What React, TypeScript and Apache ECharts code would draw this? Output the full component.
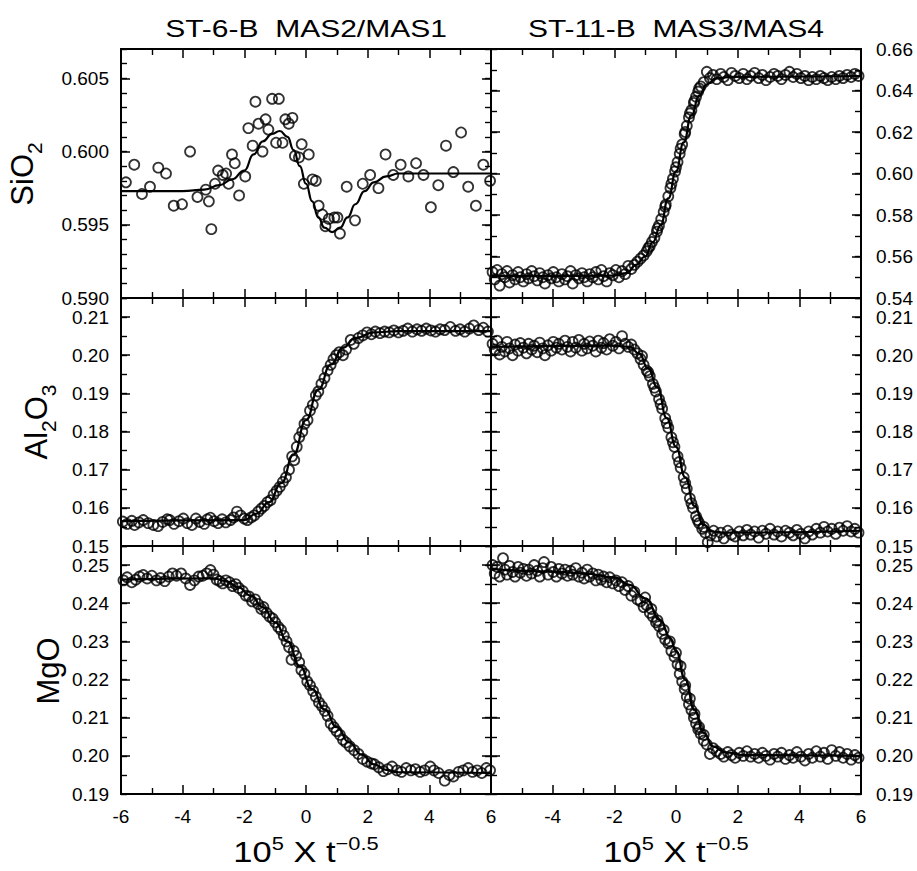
import React, { useEffect, useRef } from 'react';
import * as echarts from 'echarts';

const FONT = "'Liberation Sans', Arial, Helvetica, sans-serif";

// ---------- tick settings ----------
const xTicks = { min: -6, max: 6, major: 2, minor: 1 };
const sio2LeftTicks = { min: 0.59, max: 0.607, major: 0.005, minor: 0.001, decimals: 3 };
const sio2RightTicks = { min: 0.54, max: 0.66, major: 0.02, minor: 0.01, decimals: 2 };
const al2o3Ticks = { min: 0.15, max: 0.215, major: 0.01, minor: 0.005, decimals: 2 };
const mgoTicks = { min: 0.19, max: 0.255, major: 0.01, minor: 0.005, decimals: 2 };

const titles = ['ST-6-B  MAS2/MAS1', 'ST-11-B  MAS3/MAS4'];

// ---------- SiO2, ST-6-B ----------
const sio2LeftPoints = [
  [-5.84, 0.5979], [-5.57, 0.5991], [-5.32, 0.5971], [-5.06, 0.5976], [-4.79, 0.5989], [-4.54, 0.5985],
  [-4.29, 0.5963], [-4.02, 0.5964], [-3.76, 0.6], [-3.52, 0.5969], [-3.25, 0.5974], [-3.15, 0.5966],
  [-3.07, 0.5947], [-2.95, 0.5978], [-2.85, 0.5987], [-2.7, 0.5984], [-2.59, 0.5985], [-2.51, 0.5978],
  [-2.4, 0.5998], [-2.31, 0.5992], [-2.17, 0.597], [-1.97, 0.5983], [-1.87, 0.6016], [-1.73, 0.6004],
  [-1.64, 0.6034], [-1.54, 0.6019], [-1.41, 0.6], [-1.31, 0.6022], [-1.22, 0.6015], [-1.1, 0.6036],
  [-0.97, 0.6006], [-0.88, 0.6036], [-0.76, 0.6006], [-0.67, 0.6022], [-0.56, 0.6019], [-0.44, 0.6023],
  [-0.36, 0.5997], [-0.23, 0.5996], [-0.14, 0.6005], [-0.07, 0.5978], [0.09, 0.5998], [0.21, 0.5981],
  [0.32, 0.598], [0.41, 0.5963], [0.53, 0.5957], [0.63, 0.5949], [0.74, 0.5954], [0.92, 0.5955],
  [1.02, 0.5955], [1.1, 0.5944], [1.32, 0.5976], [1.59, 0.5953], [1.84, 0.5978], [2.08, 0.5984],
  [2.35, 0.5975], [2.58, 0.5998], [2.83, 0.5984], [3.07, 0.5991], [3.32, 0.5983], [3.57, 0.5992],
  [3.81, 0.5984], [4.05, 0.5962], [4.29, 0.5977], [4.54, 0.6004], [4.78, 0.5986], [5.03, 0.6013],
  [5.26, 0.5976], [5.51, 0.5963], [5.75, 0.5991], [5.97, 0.598]
];
const sio2LeftCurve = [
  [-6, 0.5973], [-4, 0.5973], [-3.3, 0.5974], [-2.8, 0.5977], [-2.4, 0.5981], [-2.0, 0.5987],
  [-1.7, 0.5998], [-1.4, 0.6007], [-1.1, 0.6012], [-0.85, 0.6014], [-0.6, 0.601], [-0.4, 0.6001],
  [-0.2, 0.599], [0, 0.5978], [0.2, 0.5966], [0.4, 0.5955], [0.6, 0.5948], [0.85, 0.5945],
  [1.1, 0.5948], [1.35, 0.5955], [1.6, 0.5964], [1.9, 0.5973], [2.2, 0.5979], [2.6, 0.5983],
  [3.0, 0.5985], [3.5, 0.5985], [6, 0.5985]
];

// ---------- SiO2, ST-11-B ----------
const sio2RightPoints = [
  [-5.95, 0.5525], [-5.88, 0.549], [-5.8, 0.5535], [-5.72, 0.546], [-5.65, 0.5515], [-5.55, 0.55],
  [-5.48, 0.553], [-5.4, 0.5475], [-5.3, 0.551], [-5.22, 0.549], [-5.12, 0.5525], [-5.05, 0.55],
  [-4.95, 0.548], [-4.85, 0.5515], [-4.78, 0.5495], [-4.68, 0.553], [-4.6, 0.5505], [-4.5, 0.5485],
  [-4.42, 0.552], [-4.32, 0.55], [-4.25, 0.547], [-4.15, 0.551], [-4.05, 0.5495], [-3.98, 0.5525],
  [-3.88, 0.55], [-3.8, 0.548], [-3.7, 0.5515], [-3.6, 0.549], [-3.52, 0.5505], [-3.42, 0.553],
  [-3.35, 0.547], [-3.25, 0.551], [-3.15, 0.5495], [-3.05, 0.552], [-2.98, 0.55], [-2.88, 0.548],
  [-2.8, 0.5515], [-2.7, 0.55], [-2.6, 0.5525], [-2.52, 0.549], [-2.42, 0.5535], [-2.35, 0.5505],
  [-2.25, 0.548], [-2.15, 0.552], [-2.05, 0.551], [-1.95, 0.5535], [-1.85, 0.55], [-1.75, 0.553],
  [-1.65, 0.5515], [-1.55, 0.5555], [-1.45, 0.554], [-1.35, 0.556], [-1.25, 0.5575], [-1.15, 0.559],
  [-1.05, 0.5605], [-0.95, 0.5625], [-0.85, 0.565], [-0.78, 0.567], [-0.7, 0.569], [-0.62, 0.572],
  [-0.55, 0.575], [-0.48, 0.578], [-0.4, 0.5815], [-0.33, 0.585], [-0.25, 0.589], [-0.18, 0.593],
  [-0.1, 0.5975], [-0.03, 0.601], [0.05, 0.6055], [0.12, 0.6095], [0.2, 0.614], [0.28, 0.619],
  [0.35, 0.623], [0.42, 0.627], [0.5, 0.6305], [0.58, 0.634], [0.65, 0.637], [0.72, 0.6395],
  [0.8, 0.642], [0.9, 0.644], [1.0, 0.649], [1.1, 0.646], [1.2, 0.6475], [1.32, 0.6455],
  [1.45, 0.648], [1.55, 0.6465], [1.68, 0.645], [1.8, 0.6485], [1.92, 0.647], [2.05, 0.646],
  [2.18, 0.648], [2.3, 0.6455], [2.42, 0.647], [2.55, 0.6485], [2.68, 0.646], [2.8, 0.6475],
  [2.92, 0.645], [3.05, 0.6465], [3.18, 0.648], [3.3, 0.647], [3.42, 0.6455], [3.55, 0.6475],
  [3.68, 0.649], [3.8, 0.6465], [3.92, 0.648], [4.05, 0.646], [4.18, 0.647], [4.3, 0.645],
  [4.42, 0.6465], [4.55, 0.6455], [4.68, 0.647], [4.8, 0.646], [4.92, 0.645], [5.05, 0.6465],
  [5.18, 0.6455], [5.3, 0.647], [5.42, 0.646], [5.55, 0.6475], [5.68, 0.6465], [5.8, 0.648],
  [5.92, 0.647],
  [-0.9, 0.564], [-0.6, 0.5735], [-0.35, 0.584], [-0.15, 0.595], [0.0, 0.603], [0.15, 0.612],
  [0.3, 0.62], [0.45, 0.629], [0.6, 0.635], [0.75, 0.641]
];
const sio2RightCurve = [
  [-6, 0.5505], [-2, 0.5508], [-1.6, 0.552], [-1.3, 0.556], [-1.0, 0.56], [-0.75, 0.567],
  [-0.5, 0.575], [-0.25, 0.588], [0, 0.601], [0.25, 0.615], [0.5, 0.628], [0.75, 0.6375],
  [1.0, 0.643], [1.3, 0.6458], [1.8, 0.6466], [6, 0.647]
];

// ---------- Al2O3, ST-6-B ----------
const al2o3LeftPoints = [
  [-5.94, 0.1564], [-5.8, 0.1558], [-5.65, 0.1566], [-5.56, 0.1555], [-5.42, 0.1562], [-5.28, 0.1568],
  [-5.12, 0.156], [-4.95, 0.1555], [-4.8, 0.1552], [-4.65, 0.1563], [-4.5, 0.157], [-4.42, 0.1568],
  [-4.28, 0.1558], [-4.12, 0.1565], [-3.98, 0.1572], [-3.85, 0.156], [-3.7, 0.1555], [-3.57, 0.1572],
  [-3.45, 0.1563], [-3.3, 0.1558], [-3.2, 0.157], [-3.1, 0.1574], [-2.98, 0.1565], [-2.85, 0.156],
  [-2.72, 0.157], [-2.6, 0.1562], [-2.45, 0.1568], [-2.35, 0.1575], [-2.24, 0.159], [-2.12, 0.158],
  [-2.0, 0.1572], [-1.9, 0.1568], [-1.78, 0.1575], [-1.68, 0.158], [-1.55, 0.159], [-1.45, 0.1598],
  [-1.35, 0.1605], [-1.25, 0.1615], [-1.15, 0.162], [-1.05, 0.1635], [-0.95, 0.1645], [-0.85, 0.1655],
  [-0.75, 0.1668], [-0.65, 0.168], [-0.55, 0.17], [-0.45, 0.1735], [-0.38, 0.1725], [-0.3, 0.176],
  [-0.22, 0.1785], [-0.12, 0.18], [-0.05, 0.182], [0.05, 0.183], [0.13, 0.1855], [0.22, 0.187],
  [0.32, 0.1895], [0.4, 0.1905], [0.5, 0.1925], [0.6, 0.194], [0.7, 0.196], [0.8, 0.1975],
  [0.89, 0.199], [0.98, 0.2], [1.08, 0.2008], [1.2, 0.2], [1.3, 0.2015], [1.45, 0.204],
  [1.55, 0.203], [1.7, 0.2045], [1.84, 0.2052], [1.98, 0.206], [2.12, 0.2055], [2.25, 0.2062],
  [2.4, 0.2058], [2.55, 0.2062], [2.7, 0.206], [2.85, 0.2065], [3.0, 0.206], [3.15, 0.2064],
  [3.3, 0.207], [3.45, 0.2062], [3.6, 0.2068], [3.75, 0.2064], [3.9, 0.207], [4.05, 0.2065],
  [4.2, 0.2062], [4.35, 0.2068], [4.5, 0.2066], [4.68, 0.2074], [4.85, 0.2064], [5.0, 0.2068],
  [5.15, 0.2062], [5.3, 0.207], [5.44, 0.2078], [5.6, 0.2066], [5.75, 0.2072], [5.9, 0.2062]
];
const al2o3LeftCurve = [
  [-6, 0.1565], [-2.0, 0.1568], [-1.6, 0.1585], [-1.2, 0.1615], [-0.8, 0.1665], [-0.4, 0.174],
  [0, 0.183], [0.4, 0.191], [0.8, 0.1975], [1.2, 0.202], [1.6, 0.2045], [2.2, 0.206],
  [3.0, 0.2063], [6, 0.2063]
];

// ---------- Al2O3, ST-11-B ----------
const al2o3RightPoints = [
  [-5.95, 0.203], [-5.88, 0.2015], [-5.8, 0.2038], [-5.72, 0.2002], [-5.65, 0.2022], [-5.55, 0.201],
  [-5.48, 0.2035], [-5.4, 0.2018], [-5.3, 0.2], [-5.22, 0.2028], [-5.12, 0.2012], [-5.05, 0.2032],
  [-4.95, 0.202], [-4.85, 0.2005], [-4.78, 0.203], [-4.68, 0.2015], [-4.6, 0.2025], [-4.5, 0.2008],
  [-4.42, 0.2033], [-4.32, 0.2018], [-4.25, 0.2], [-4.15, 0.2026], [-4.05, 0.2012], [-3.98, 0.2035],
  [-3.88, 0.202], [-3.8, 0.203], [-3.7, 0.2015], [-3.6, 0.2038], [-3.52, 0.2022], [-3.42, 0.201],
  [-3.35, 0.2035], [-3.25, 0.202], [-3.15, 0.204], [-3.05, 0.2012], [-2.98, 0.203], [-2.88, 0.2018],
  [-2.8, 0.2036], [-2.7, 0.2025], [-2.6, 0.201], [-2.52, 0.2038], [-2.42, 0.202], [-2.35, 0.2032],
  [-2.25, 0.2015], [-2.15, 0.2042], [-2.05, 0.2025], [-1.95, 0.2035], [-1.85, 0.2018], [-1.75, 0.205],
  [-1.65, 0.203], [-1.55, 0.2022], [-1.45, 0.2028], [-1.35, 0.2015], [-1.25, 0.2005], [-1.15, 0.199],
  [-1.05, 0.1975], [-0.95, 0.196], [-0.85, 0.1945], [-0.75, 0.1925], [-0.65, 0.1905], [-0.55, 0.1885],
  [-0.45, 0.186], [-0.35, 0.1835], [-0.25, 0.181], [-0.15, 0.1785], [-0.05, 0.176], [0.05, 0.1735],
  [0.15, 0.1705], [0.25, 0.168], [0.35, 0.165], [0.45, 0.1625], [0.55, 0.16], [0.65, 0.1578],
  [0.75, 0.156], [0.85, 0.1545], [0.95, 0.1535], [1.03, 0.151], [1.12, 0.1528], [1.22, 0.154],
  [1.32, 0.1525], [1.45, 0.1535], [1.55, 0.152], [1.68, 0.154], [1.8, 0.153], [1.92, 0.1525],
  [2.05, 0.1538], [2.18, 0.1528], [2.3, 0.1542], [2.42, 0.153], [2.55, 0.1538], [2.68, 0.1522],
  [2.8, 0.154], [2.92, 0.1532], [3.05, 0.1545], [3.18, 0.153], [3.3, 0.1538], [3.42, 0.1525],
  [3.55, 0.154], [3.68, 0.1535], [3.8, 0.1528], [3.92, 0.1542], [4.05, 0.1532], [4.18, 0.152],
  [4.3, 0.1538], [4.42, 0.153], [4.55, 0.1545], [4.68, 0.1535], [4.8, 0.155], [4.92, 0.1538],
  [5.05, 0.1545], [5.18, 0.1532], [5.3, 0.1548], [5.42, 0.154], [5.55, 0.1552], [5.68, 0.1538],
  [5.8, 0.1545], [5.92, 0.1535],
  [-1.1, 0.1998], [-0.9, 0.1955], [-0.7, 0.1915], [-0.5, 0.1872], [-0.3, 0.1822], [-0.1, 0.1772],
  [0.1, 0.172], [0.3, 0.1665], [0.5, 0.1612], [0.7, 0.1568], [0.9, 0.155]
];
const al2o3RightCurve = [
  [-6, 0.2022], [-2, 0.2025], [-1.5, 0.2022], [-1.2, 0.2005], [-0.9, 0.1965], [-0.6, 0.1915],
  [-0.3, 0.1835], [0, 0.176], [0.3, 0.168], [0.6, 0.1605], [0.9, 0.1555], [1.2, 0.1538],
  [1.6, 0.1535], [6, 0.154]
];

// ---------- MgO, ST-6-B ----------
const mgoLeftPoints = [
  [-5.92, 0.246], [-5.8, 0.2468], [-5.65, 0.2455], [-5.52, 0.2462], [-5.4, 0.247], [-5.28, 0.2474],
  [-5.15, 0.2465], [-5.0, 0.2472], [-4.85, 0.246], [-4.72, 0.2466], [-4.58, 0.2458], [-4.45, 0.247],
  [-4.33, 0.2478], [-4.2, 0.2472], [-4.05, 0.2478], [-3.9, 0.2465], [-3.76, 0.2448], [-3.62, 0.246],
  [-3.48, 0.247], [-3.35, 0.2472], [-3.22, 0.2478], [-3.1, 0.2487], [-3.0, 0.2475], [-2.9, 0.2462],
  [-2.8, 0.2458], [-2.7, 0.2452], [-2.6, 0.246], [-2.48, 0.2455], [-2.38, 0.2445], [-2.28, 0.245],
  [-2.18, 0.244], [-2.05, 0.2432], [-1.95, 0.242], [-1.85, 0.2418], [-1.75, 0.2405], [-1.65, 0.241],
  [-1.55, 0.2398], [-1.45, 0.2385], [-1.38, 0.239], [-1.28, 0.2375], [-1.18, 0.2365], [-1.08, 0.236],
  [-1.0, 0.235], [-0.9, 0.2338], [-0.81, 0.233], [-0.72, 0.2315], [-0.63, 0.23], [-0.55, 0.2285],
  [-0.47, 0.2252], [-0.4, 0.2275], [-0.32, 0.2262], [-0.22, 0.2245], [-0.15, 0.2225], [-0.05, 0.2215],
  [0.04, 0.2195], [0.13, 0.2185], [0.23, 0.217], [0.32, 0.2155], [0.42, 0.214], [0.52, 0.213],
  [0.61, 0.2118], [0.7, 0.2105], [0.8, 0.2085], [0.9, 0.2075], [0.99, 0.2065], [1.1, 0.2055],
  [1.2, 0.2042], [1.3, 0.2035], [1.42, 0.2025], [1.56, 0.2015], [1.7, 0.2005], [1.84, 0.1992],
  [1.98, 0.1985], [2.12, 0.198], [2.22, 0.1978], [2.36, 0.197], [2.51, 0.196], [2.65, 0.1965],
  [2.79, 0.1972], [2.95, 0.1962], [3.1, 0.1958], [3.25, 0.1968], [3.4, 0.1962], [3.55, 0.1965],
  [3.7, 0.1958], [3.85, 0.1962], [4.03, 0.1972], [4.15, 0.1962], [4.3, 0.1955], [4.5, 0.1935],
  [4.65, 0.195], [4.78, 0.1946], [4.95, 0.1958], [5.1, 0.1962], [5.26, 0.1968], [5.4, 0.1958],
  [5.55, 0.1962], [5.7, 0.1955], [5.85, 0.1968], [5.97, 0.1962]
];
const mgoLeftCurve = [
  [-6, 0.2462], [-3.0, 0.2465], [-2.6, 0.2458], [-2.2, 0.2442], [-1.8, 0.242], [-1.4, 0.239],
  [-1.0, 0.235], [-0.6, 0.23], [-0.2, 0.2235], [0.2, 0.2175], [0.6, 0.2122], [1.0, 0.2075],
  [1.4, 0.2035], [1.8, 0.2003], [2.2, 0.1978], [2.6, 0.1963], [3.0, 0.1957], [6, 0.1955]
];

// ---------- MgO, ST-11-B ----------
const mgoRightPoints = [
  [-5.95, 0.25], [-5.88, 0.2478], [-5.8, 0.2495], [-5.72, 0.247], [-5.61, 0.2518], [-5.55, 0.2488],
  [-5.48, 0.2475], [-5.4, 0.2498], [-5.3, 0.2482], [-5.22, 0.247], [-5.12, 0.2495], [-5.05, 0.248],
  [-4.95, 0.249], [-4.85, 0.2472], [-4.78, 0.2488], [-4.68, 0.2478], [-4.6, 0.25], [-4.5, 0.2485],
  [-4.42, 0.247], [-4.32, 0.2492], [-4.28, 0.2508], [-4.15, 0.2475], [-4.05, 0.2495], [-3.98, 0.2482],
  [-3.88, 0.247], [-3.8, 0.249], [-3.7, 0.2478], [-3.6, 0.2488], [-3.52, 0.2472], [-3.42, 0.2485],
  [-3.35, 0.2475], [-3.25, 0.2492], [-3.15, 0.247], [-3.05, 0.248], [-2.98, 0.2465], [-2.88, 0.2488],
  [-2.8, 0.247], [-2.7, 0.2478], [-2.6, 0.246], [-2.52, 0.2475], [-2.42, 0.2462], [-2.35, 0.247],
  [-2.25, 0.2455], [-2.15, 0.2468], [-2.05, 0.2452], [-1.95, 0.246], [-1.85, 0.2445], [-1.75, 0.2455],
  [-1.65, 0.2435], [-1.55, 0.2445], [-1.45, 0.242], [-1.35, 0.243], [-1.25, 0.241], [-1.15, 0.2405],
  [-1.05, 0.239], [-0.95, 0.2395], [-0.85, 0.2375], [-0.75, 0.2365], [-0.65, 0.235], [-0.55, 0.234],
  [-0.45, 0.232], [-0.35, 0.2305], [-0.25, 0.2295], [-0.15, 0.2275], [-0.05, 0.226], [0.05, 0.224],
  [0.12, 0.2215], [0.2, 0.2195], [0.28, 0.2175], [0.35, 0.2155], [0.42, 0.2135], [0.5, 0.212],
  [0.58, 0.21], [0.65, 0.2085], [0.72, 0.207], [0.8, 0.2058], [0.9, 0.204], [1.0, 0.203],
  [1.1, 0.2005], [1.2, 0.202], [1.32, 0.2012], [1.45, 0.2005], [1.55, 0.1998], [1.68, 0.201],
  [1.8, 0.2002], [1.92, 0.1995], [2.05, 0.2008], [2.18, 0.2], [2.3, 0.2012], [2.42, 0.1998],
  [2.55, 0.2005], [2.68, 0.1995], [2.8, 0.2008], [2.92, 0.2], [3.05, 0.199], [3.18, 0.2005],
  [3.3, 0.1998], [3.42, 0.2008], [3.55, 0.1992], [3.68, 0.2002], [3.8, 0.1995], [3.92, 0.201],
  [4.05, 0.1998], [4.18, 0.1988], [4.3, 0.2005], [4.42, 0.1995], [4.55, 0.2012], [4.68, 0.1998],
  [4.8, 0.2008], [4.92, 0.1992], [5.05, 0.2015], [5.18, 0.2], [5.3, 0.201], [5.42, 0.1995],
  [5.55, 0.2005], [5.68, 0.199], [5.8, 0.2002], [5.92, 0.1995],
  [-1.0, 0.2415], [-0.8, 0.2385], [-0.6, 0.2355], [-0.4, 0.233], [-0.2, 0.23], [0.0, 0.227],
  [0.15, 0.2235], [0.3, 0.2185], [0.45, 0.215], [0.6, 0.211], [0.75, 0.2075], [0.9, 0.2055]
];
const mgoRightCurve = [
  [-6, 0.249], [-4, 0.2483], [-3, 0.2478], [-2, 0.2468], [-1.5, 0.2448], [-1.0, 0.2413],
  [-0.5, 0.2356], [-0.2, 0.231], [0, 0.2275], [0.3, 0.22], [0.6, 0.212], [0.9, 0.206],
  [1.2, 0.2025], [1.6, 0.2009], [2.2, 0.2002], [6, 0.2]
];

// ---------- layout ----------
const colLeft = [121, 491];
const panelWidth = 370;
const rowTop = [49, 298, 546];
const rowHeight = [249, 248, 248];

const panels = [
  { row: 0, col: 0, ticks: sio2LeftTicks, points: sio2LeftPoints, curve: sio2LeftCurve },
  { row: 0, col: 1, ticks: sio2RightTicks, points: sio2RightPoints, curve: sio2RightCurve },
  { row: 1, col: 0, ticks: al2o3Ticks, points: al2o3LeftPoints, curve: al2o3LeftCurve },
  { row: 1, col: 1, ticks: al2o3Ticks, points: al2o3RightPoints, curve: al2o3RightCurve },
  { row: 2, col: 0, ticks: mgoTicks, points: mgoLeftPoints, curve: mgoLeftCurve },
  { row: 2, col: 1, ticks: mgoTicks, points: mgoRightPoints, curve: mgoRightCurve }
];

const black = '#000';
const labelStyle = { fontSize: 19, fontFamily: FONT, color: black };
const borderLine = { show: true, onZero: false, lineStyle: { color: black, width: 2 } };

function xAxisFor(gridIndex: number, position: string, showLabel: boolean, showMin: boolean) {
  return {
    type: 'value', gridIndex, position, min: xTicks.min, max: xTicks.max, interval: xTicks.major,
    axisLine: borderLine,
    axisTick: { show: true, inside: true, length: 9, lineStyle: { color: black, width: 1.5 } },
    minorTick: { show: true, splitNumber: xTicks.major / xTicks.minor, length: 6, lineStyle: { color: black, width: 1.4 } },
    splitLine: { show: false }, minorSplitLine: { show: false },
    axisLabel: { show: showLabel, showMinLabel: showMin, margin: 13, ...labelStyle }
  };
}

function yMajorFor(gridIndex: number, position: string, t: any, showLabel: boolean) {
  return {
    type: 'value', gridIndex, position, min: t.min, max: t.max, interval: t.major,
    axisLine: borderLine,
    axisTick: { show: true, inside: true, length: 9, lineStyle: { color: black, width: 1.5 } },
    splitLine: { show: false },
    axisLabel: {
      show: showLabel, margin: position === 'left' ? 12 : 15, ...labelStyle,
      formatter: (v: number) => {
        const k = (v - t.min) / t.major;
        return Math.abs(k - Math.round(k)) < 1e-4 ? v.toFixed(t.decimals) : '';
      }
    }
  };
}

function yMinorFor(gridIndex: number, position: string, t: any) {
  return {
    type: 'value', gridIndex, position, min: t.min, max: t.max, interval: t.minor,
    axisLine: borderLine,
    axisTick: { show: true, inside: true, length: 6, lineStyle: { color: black, width: 1.4 } },
    splitLine: { show: false },
    axisLabel: { show: false }
  };
}

function buildOption() {
  const grid: any[] = [];
  const xAxis: any[] = [];
  const yAxis: any[] = [];
  const series: any[] = [];
  panels.forEach((p, i) => {
    grid.push({ left: colLeft[p.col], top: rowTop[p.row], width: panelWidth, height: rowHeight[p.row], containLabel: false });
    xAxis.push(xAxisFor(i, 'bottom', p.row === 2, p.col === 0));
    xAxis.push(xAxisFor(i, 'top', false, true));
    yAxis.push(yMajorFor(i, 'left', p.ticks, p.col === 0));
    yAxis.push(yMinorFor(i, 'left', p.ticks));
    yAxis.push(yMajorFor(i, 'right', p.ticks, p.col === 1));
    yAxis.push(yMinorFor(i, 'right', p.ticks));
    series.push({
      type: 'scatter', xAxisIndex: 2 * i, yAxisIndex: 4 * i, data: p.points,
      symbol: 'circle', symbolSize: 10, silent: true, z: 2,
      itemStyle: { color: 'rgba(255,255,255,0)', borderColor: black, borderWidth: 1.8 }
    });
    series.push({
      type: 'line', xAxisIndex: 2 * i, yAxisIndex: 4 * i, data: p.curve,
      showSymbol: false, symbol: 'none', smooth: 0.5, smoothMonotone: 'x', silent: true, z: 3,
      lineStyle: { color: black, width: 2.2 }
    });
  });

  const titleStyle = (text: string) => ({
    text, fontSize: 24, fontFamily: FONT, fill: black, textAlign: 'center', textVerticalAlign: 'middle'
  });
  const yTitle = (text: string, x: number, y: number) => ({
    type: 'text', x, y, rotation: Math.PI / 2, silent: true,
    style: {
      text, textAlign: 'center', textVerticalAlign: 'middle', fill: black,
      rich: {
        m: { fontSize: 31, fontFamily: FONT, fill: black, lineHeight: 46 },
        s: { fontSize: 21, fontFamily: FONT, fill: black, verticalAlign: 'bottom' }
      }
    }
  });
  const xTitle = (x: number) => ({
    type: 'text', x, y: 852, scaleX: 1.15, silent: true,
    style: {
      text: '{m|10}{p|5}{m| X t}{p|\u22120.5}', textAlign: 'center', textVerticalAlign: 'middle', fill: black,
      rich: {
        m: { fontSize: 30, fontFamily: FONT, fill: black, lineHeight: 36 },
        p: { fontSize: 19, fontFamily: FONT, fill: black, verticalAlign: 'top' }
      }
    }
  });

  const graphic = [
    { type: 'text', x: colLeft[0] + panelWidth / 2, y: 29, scaleX: 1.25, silent: true, style: titleStyle(titles[0]) },
    { type: 'text', x: colLeft[1] + panelWidth / 2, y: 29, scaleX: 1.25, silent: true, style: titleStyle(titles[1]) },
    yTitle('{m|SiO}{s|2}', 22, 174),
    yTitle('{m|Al}{s|2}{m|O}{s|3}', 36, 422),
    yTitle('{m|MgO}', 48, 671),
    xTitle(colLeft[0] + panelWidth / 2),
    xTitle(colLeft[1] + panelWidth / 2)
  ];

  return {
    animation: false,
    backgroundColor: '#fff',
    grid, xAxis, yAxis, series, graphic
  };
}

export default function App() {
  const ref = useRef<HTMLDivElement>(null);
  useEffect(() => {
    if (!ref.current) return;
    const chart = echarts.init(ref.current, undefined, { renderer: 'svg' });
    chart.setOption(buildOption() as any);
    return () => chart.dispose();
  }, []);
  return (
    <div
      ref={ref}
      style={{ position: 'absolute', left: 0, top: 0, width: 917, height: 871, background: '#fff' }}
    />
  );
}
